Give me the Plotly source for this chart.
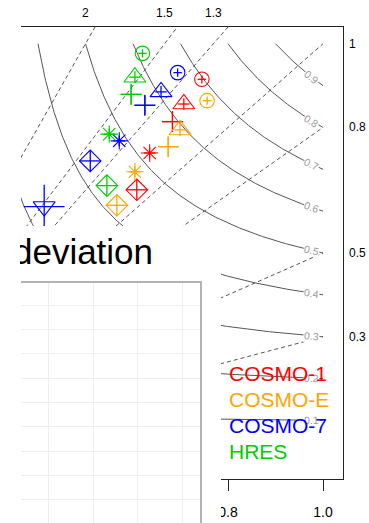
import numpy as np
import plotly.graph_objects as go

W, H = 369, 523

# ---- verification scores (success ratio, probability of detection) ----
models = ["COSMO-1", "COSMO-E", "COSMO-7", "HRES"]
model_colors = ["#FF0000", "#FFA500", "#0000FF", "#00CD00"]

# one symbol per threshold class
class_symbols = ["circle-open", "triangle-up-open", "cross-thin-open",
                 "asterisk-open", "diamond-open", "triangle-down-open"]
class_sizes = [14.5, 19, 15, 14.5, 16.6, 19]

sr_cosmo1 = [0.745, 0.707, 0.683, 0.635, 0.608, None]
pod_cosmo1 = [0.915, 0.856, 0.814, 0.739, 0.651, None]
sr_cosmoe = [0.756, 0.699, 0.674, 0.604, 0.566, None]
pod_cosmoe = [0.864, 0.794, 0.754, 0.694, 0.614, None]
sr_cosmo7 = [0.694, 0.659, 0.625, 0.571, 0.510, 0.413]
pod_cosmo7 = [0.931, 0.885, 0.853, 0.768, 0.720, 0.611]
sr_hres = [0.620, 0.604, 0.596, 0.550, 0.545, None]
pod_hres = [0.977, 0.920, 0.879, 0.784, 0.661, None]

# half-width of the confidence intervals per threshold class
ci_sr = [0.009, 0.012, 0.022, 0.012, 0.022, 0.043]
ci_pod = [0.010, 0.014, 0.024, 0.013, 0.025, 0.052]

# reference lines of the performance diagram
csi_levels = [0.1, 0.2, 0.3, 0.4, 0.5, 0.6, 0.7, 0.8, 0.9]
bias_levels = [0.3, 0.5, 0.8, 1, 1.3, 1.5, 2, 3, 5, 10]

scores = {
    "COSMO-1": (sr_cosmo1, pod_cosmo1),
    "COSMO-E": (sr_cosmoe, pod_cosmoe),
    "COSMO-7": (sr_cosmo7, pod_cosmo7),
    "HRES": (sr_hres, pod_hres),
}

# axis extents (R style 4% padding); left part of the frame lies outside the page
X_MIN, X_MAX = 0.3642, 1.0421
Y_MIN, Y_MAX = -0.04, 1.04

LINE_GREY = "#555555"
FONT = "Liberation Sans, Arial, sans-serif"

fig = go.Figure()

# frequency-bias lines (dashed)
for b in bias_levels:
    fig.add_trace(go.Scatter(
        x=[0, 1], y=[0, b], mode="lines",
        line=dict(color=LINE_GREY, width=1, dash="4px,3px"),
        hoverinfo="skip", showlegend=False, xaxis="x", yaxis="y"))

# critical-success-index contours (solid)
for c in csi_levels:
    s = np.linspace(c, 1.0, 300)
    p = 1.0 / (1.0 / c - 1.0 / s + 1.0)
    fig.add_trace(go.Scatter(
        x=s, y=p, mode="lines", line=dict(color=LINE_GREY, width=1),
        hoverinfo="skip", showlegend=False, xaxis="x", yaxis="y"))

# score points with confidence crosses
for model, col in zip(models, model_colors):
    srs, pods = scores[model]
    for k, (s, p) in enumerate(zip(srs, pods)):
        if s is None:
            continue
        fig.add_trace(go.Scatter(
            x=[s], y=[p], mode="markers",
            marker=dict(symbol=class_symbols[k], size=class_sizes[k],
                        color=col, line=dict(color=col, width=1.1)),
            error_x=dict(type="data", array=[ci_sr[k]], color=col,
                         thickness=1.3, width=0),
            error_y=dict(type="data", array=[ci_pod[k]], color=col,
                         thickness=1.3, width=0),
            name=model, showlegend=False, xaxis="x", yaxis="y"))

# neighbouring panel: blank cover with its (cropped) title
fig.add_trace(go.Scatter(
    x=[0.662], y=[0.902], mode="text", text=["Standard deviation"],
    textposition="middle left", cliponaxis=True,
    textfont=dict(family=FONT, size=35, color="#000000"),
    hoverinfo="skip", showlegend=False, xaxis="x2", yaxis="y2"))

# neighbouring panel: empty gridded plot area
fig.add_trace(go.Scatter(
    x=[None], y=[None], mode="markers", hoverinfo="skip",
    showlegend=False, xaxis="x3", yaxis="y3"))

annotations = []

# CSI labels placed on the curves near the right edge
lab_sr = 0.976
px_per_x = (343 - 21) / (X_MAX - X_MIN)
px_per_y = (479 - 27) / (Y_MAX - Y_MIN)
for c in csi_levels:
    p = 1.0 / (1.0 / c - 1.0 / lab_sr + 1.0)
    slope = (p / lab_sr) ** 2 * px_per_y / px_per_x
    ang = float(np.degrees(np.arctan(slope)))
    annotations.append(dict(
        x=lab_sr, y=p, xref="x", yref="y", text=f"{c:.1f}", showarrow=False,
        textangle=ang, font=dict(family=FONT, size=10.5, color="#9A9A9A"),
        bgcolor="#FFFFFF", borderpad=0, xanchor="center", yanchor="middle"))

# bias labels: > 1 on top, <= 1 on the right
for b in bias_levels:
    if b > 1:
        if 1.0 / b < X_MIN:
            continue
        annotations.append(dict(
            x=1.0 / b, y=Y_MAX, xref="x", yref="y", yshift=14,
            text=f"{b:g}", showarrow=False,
            font=dict(family=FONT, size=12, color="#000000"),
            xanchor="center", yanchor="middle"))
    else:
        annotations.append(dict(
            x=X_MAX, y=b, xref="x", yref="y", xshift=4,
            text=f"{b:g}", showarrow=False,
            font=dict(family=FONT, size=12, color="#000000"),
            xanchor="left", yanchor="middle"))

# model legend as coloured text
leg_top = 373
for i, (model, col) in enumerate(zip(models, model_colors)):
    annotations.append(dict(
        x=227 / W, y=1 - (leg_top + 26 * i) / H, xref="paper", yref="paper",
        text=model, showarrow=False, xanchor="left", yanchor="middle",
        font=dict(family=FONT, size=21, color=col)))

fig.update_layout(
    width=W, height=H,
    margin=dict(l=0, r=0, t=0, b=0),
    paper_bgcolor="#FFFFFF", plot_bgcolor="#FFFFFF",
    showlegend=False,
    font=dict(family=FONT, color="#000000"),
    annotations=annotations,
    xaxis=dict(
        domain=[21 / W, 343 / W], range=[X_MIN, X_MAX], anchor="y",
        showgrid=False, zeroline=False,
        showline=True, linecolor="#222222", linewidth=1, mirror=True,
        tickvals=[0.2, 0.4, 0.6, 0.8, 1.0], tickformat=".1f",
        ticks="outside", ticklen=11, tickwidth=1, tickcolor="#222222",
        ticklabelstandoff=9,
        tickfont=dict(family=FONT, size=14, color="#000000")),
    yaxis=dict(
        domain=[1 - 479 / H, 1 - 27 / H], range=[Y_MIN, Y_MAX], anchor="x",
        side="right", showgrid=False, zeroline=False,
        showline=True, linecolor="#222222", linewidth=1,
        showticklabels=False, ticks=""),
    xaxis2=dict(domain=[20 / W, 221 / W], range=[0, 1], anchor="y2",
                visible=False, fixedrange=True),
    yaxis2=dict(domain=[0, 1 - 226 / H], range=[0, 1], anchor="x2",
                visible=False, fixedrange=True),
    xaxis3=dict(
        domain=[21 / W, 200 / W], range=[0.369, 4.405], anchor="y3",
        side="top", showline=True, linecolor="#B3B3B3", linewidth=1.5,
        showgrid=True, gridcolor="#EEEEEE", gridwidth=1, dtick=1, tick0=0,
        zeroline=False, showticklabels=False, ticks=""),
    yaxis3=dict(
        domain=[0, 1 - 283 / H], range=[-0.945, 8.91], anchor="x3",
        side="right", showline=True, linecolor="#B3B3B3", linewidth=1.5,
        showgrid=True, gridcolor="#EEEEEE", gridwidth=1, dtick=1, tick0=0,
        zeroline=False, showticklabels=False, ticks=""),
)

fig.write_html("out.html")
